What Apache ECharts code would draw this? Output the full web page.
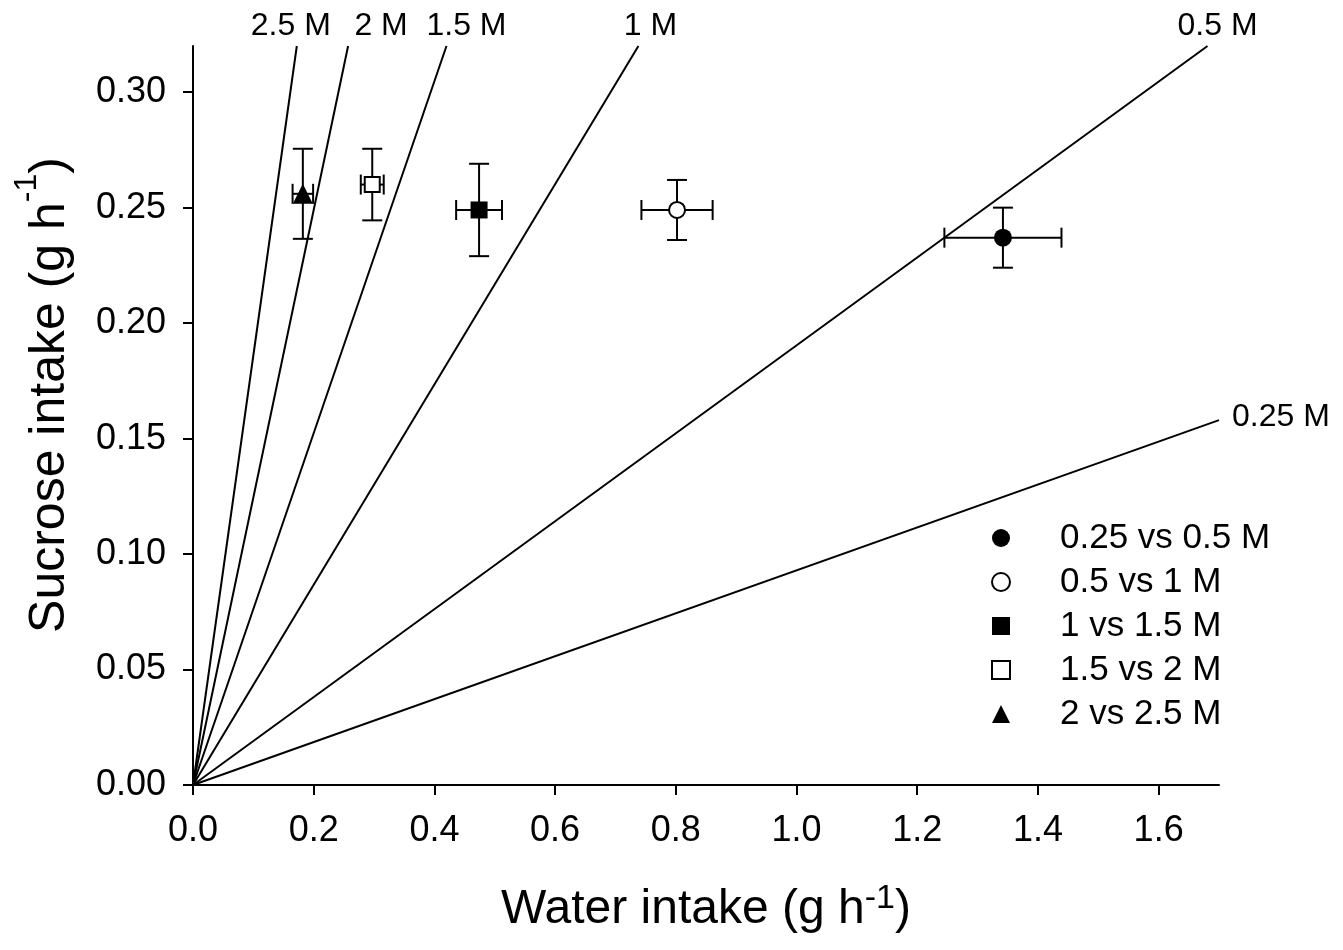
<!DOCTYPE html>
<html>
<head>
<meta charset="utf-8">
<script src="https://cdn.jsdelivr.net/npm/echarts@6/dist/echarts.min.js"></script>
<style>
html, body { margin: 0; padding: 0; background: #fff; }
#chart { width: 1343px; height: 950px; }
</style>
</head>
<body>
<div id="chart"></div>
<script>
var FONT = '"Liberation Sans", Arial, Helvetica, sans-serif';

// choice pairs: mean intake with error (water, sucrose)
var groupNames = ['0.25 vs 0.5 M', '0.5 vs 1 M', '1 vs 1.5 M', '1.5 vs 2 M', '2 vs 2.5 M'];
var waterMean = [1.342, 0.802, 0.474, 0.297, 0.182];
var waterErr = [0.097, 0.059, 0.038, 0.019, 0.017];
var sucroseMean = [0.237, 0.249, 0.249, 0.260, 0.256];
var sucroseErr = [0.013, 0.013, 0.020, 0.0155, 0.0195];

// iso-concentration lines, drawn from the origin to these end points
var concNames = ['0.25 M', '0.5 M', '1 M', '1.5 M', '2 M', '2.5 M'];
var concEndWater = [1.70, 1.681, 0.738, 0.420, 0.257, 0.172];
var concEndSucrose = [0.158, 0.32, 0.32, 0.32, 0.32, 0.32];

var xTicks = [0, 0.2, 0.4, 0.6, 0.8, 1.0, 1.2, 1.4, 1.6];
var yTicks = [0, 0.05, 0.10, 0.15, 0.20, 0.25, 0.30];

// marker look per group
var markerSymbol = ['circle', 'circle', 'rect', 'rect', 'triangle'];
var markerFilled = [true, false, true, false, true];
var markerSize = [18, 16, 17, 15, 20];

// label placement of the concentration lines
var concLabelShift = [0, 10, 12, 20, 33, -6];

var chart = echarts.init(document.getElementById('chart'));

function renderErrorBar(params, api) {
    var x = api.value(0);
    var y = api.value(1);
    var dx = api.value(2);
    var dy = api.value(3);
    var c = api.coord([x, y]);
    var l = api.coord([x - dx, y])[0];
    var r = api.coord([x + dx, y])[0];
    var t = api.coord([x, y + dy])[1];
    var b = api.coord([x, y - dy])[1];
    var cap = 10;
    var style = { stroke: '#000', lineWidth: 2 };
    function seg(x1, y1, x2, y2) {
        return { type: 'line', shape: { x1: x1, y1: y1, x2: x2, y2: y2 }, style: style };
    }
    return {
        type: 'group',
        children: [
            seg(l, c[1], r, c[1]),
            seg(l, c[1] - cap, l, c[1] + cap),
            seg(r, c[1] - cap, r, c[1] + cap),
            seg(c[0], t, c[0], b),
            seg(c[0] - cap, t, c[0] + cap, t),
            seg(c[0] - cap, b, c[0] + cap, b)
        ]
    };
}

var series = [];

concNames.forEach(function (name, i) {
    var label;
    if (i === 0) {
        label = { show: true, position: 'right', distance: 13, offset: [0, -3] };
    } else {
        label = { show: true, position: 'top', distance: 4, offset: [concLabelShift[i], 0] };
    }
    label.formatter = name;
    label.color = '#000';
    label.fontSize = 32;
    label.fontFamily = FONT;
    series.push({
        name: name,
        type: 'line',
        silent: true,
        z: 1,
        symbol: 'circle',
        symbolSize: 0,
        showSymbol: true,
        lineStyle: { color: '#000', width: 2 },
        itemStyle: { color: 'rgba(0,0,0,0)' },
        data: [[0, 0], { value: [concEndWater[i], concEndSucrose[i]], label: label }]
    });
});

var errData = groupNames.map(function (n, i) {
    return [waterMean[i], sucroseMean[i], waterErr[i], sucroseErr[i]];
});
series.push({
    name: 'error',
    type: 'custom',
    silent: true,
    z: 2,
    renderItem: renderErrorBar,
    encode: { x: 0, y: 1 },
    data: errData
});

groupNames.forEach(function (name, i) {
    series.push({
        name: name,
        type: 'scatter',
        z: 3,
        symbol: markerSymbol[i],
        symbolSize: markerSize[i],
        itemStyle: {
            color: markerFilled[i] ? '#000' : '#fff',
            borderColor: '#000',
            borderWidth: markerFilled[i] ? 0 : 2,
            opacity: 1
        },
        data: [[waterMean[i], sucroseMean[i]]]
    });
});

var option = {
    animation: false,
    backgroundColor: '#fff',
    grid: { left: 193, right: 124, top: 46, bottom: 165 },
    xAxis: {
        type: 'value',
        min: 0,
        max: 1.7,
        axisLine: { lineStyle: { color: '#000', width: 2 } },
        axisTick: { show: true, length: 10, inside: false, lineStyle: { color: '#000', width: 2 }, customValues: xTicks },
        axisLabel: {
            customValues: xTicks,
            margin: 28,
            color: '#000',
            fontSize: 36,
            fontFamily: FONT,
            formatter: function (v) { return v.toFixed(1); }
        },
        splitLine: { show: false }
    },
    yAxis: {
        type: 'value',
        min: 0,
        max: 0.32,
        axisLine: { lineStyle: { color: '#000', width: 2 } },
        axisTick: { show: true, length: 10, inside: false, lineStyle: { color: '#000', width: 2 }, customValues: yTicks },
        axisLabel: {
            customValues: yTicks,
            margin: 27,
            color: '#000',
            fontSize: 36,
            fontFamily: FONT,
            formatter: function (v) { return v.toFixed(2); }
        },
        splitLine: { show: false }
    },
    legend: {
        data: groupNames,
        orient: 'vertical',
        left: 991,
        top: 516,
        padding: 0,
        itemWidth: 18,
        itemHeight: 18,
        itemGap: 0,
        selectedMode: false,
        textStyle: {
            color: '#000',
            fontSize: 35,
            fontFamily: FONT,
            lineHeight: 44,
            padding: [0, 0, 0, 45]
        }
    },
    graphic: [{
        type: 'text',
        x: 706,
        y: 910,
        style: {
            text: '{a|Water intake (g h}{b|-1}{a|)}',
            align: 'center',
            verticalAlign: 'middle',
            fill: '#000',
            rich: {
                a: { fontSize: 48, fontFamily: FONT, lineHeight: 56, fill: '#000' },
                b: { fontSize: 34, fontFamily: FONT, lineHeight: 32, verticalAlign: 'top', fill: '#000' }
            }
        }
    }, {
        type: 'text',
        x: 50,
        y: 395,
        rotation: Math.PI / 2,
        style: {
            text: '{a|Sucrose intake (g h}{b|-1}{a|)}',
            align: 'center',
            verticalAlign: 'middle',
            fill: '#000',
            rich: {
                a: { fontSize: 50, fontFamily: FONT, lineHeight: 78, fill: '#000' },
                b: { fontSize: 32, fontFamily: FONT, lineHeight: 30, verticalAlign: 'top', fill: '#000' }
            }
        }
    }],
    series: series
};

chart.setOption(option);
</script>
</body>
</html>
